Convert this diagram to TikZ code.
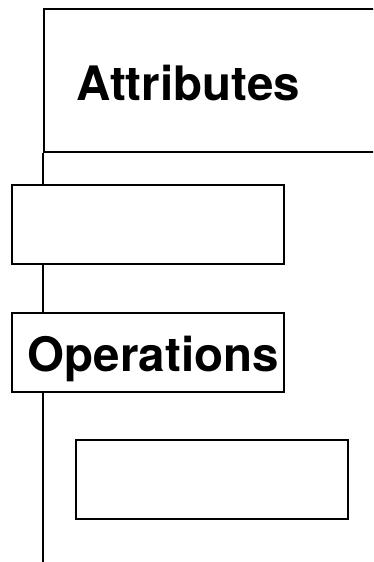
\documentclass[tikz,border=0pt]{standalone}
\usepackage{fontspec}
\setmainfont{TeX Gyre Heros}
\begin{document}
\begin{tikzpicture}[x=1pt,y=-1pt,line width=1.5pt,
  box/.style={draw=black,rectangle,inner sep=0pt,anchor=north west},
  lbl/.style={anchor=base west,inner sep=0pt,font=\fontsize{47.5}{50}\selectfont\bfseries}]
\useasboundingbox (0,0) rectangle (373,562);
\clip (0,0) rectangle (373,562);
\node[box,minimum width=380pt,minimum height=143pt] (attr) at (43,8) {};
\node[lbl] (attrtxt) at (76,100) {Attributes};
\node[box,minimum width=272pt,minimum height=79pt] (b2) at (11,184) {};
\node[box,minimum width=272pt,minimum height=79pt] (ops) at (11,312) {};
\node[lbl] (opstxt) at (27,371) {Operations};
\node[box,minimum width=272pt,minimum height=79pt] (b4) at (75,439) {};
\coordinate (bot) at (43,570);
\draw (attr.south west) -- (attr.south west |- b2.north);
\draw (attr.south west |- b2.south) -- (attr.south west |- ops.north);
\draw (attr.south west |- ops.south) -- (bot);
\end{tikzpicture}
\end{document}
